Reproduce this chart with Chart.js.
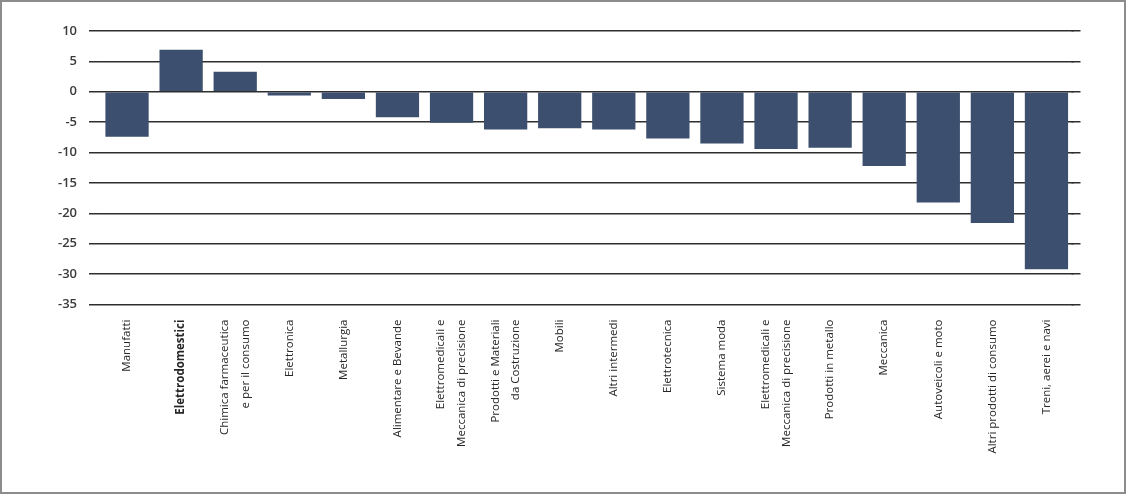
<!DOCTYPE html>
<html>
<head>
<meta charset="utf-8">
<script src="https://cdn.jsdelivr.net/npm/chart.js@4.4.1/dist/chart.umd.min.js"></script>
<style>
  html, body { margin: 0; padding: 0; background: #ffffff; }
  #wrap { position: relative; width: 1127px; height: 494px; overflow: hidden; }
  #frame { position: absolute; left: 0; top: 0; width: 1126px; height: 494px; box-sizing: border-box; border: 2px solid #8c8c8c; pointer-events: none; }
  canvas { position: absolute; left: 0; top: 0; }
</style>
</head>
<body>
<div id="wrap">
  <canvas id="c" width="1127" height="494"></canvas>
  <div id="frame"></div>
</div>
<script>
const categories = [
  "Manufatti",
  "Elettrodomestici",
  ["Chimica farmaceutica", "e per il consumo"],
  "Elettronica",
  "Metallurgia",
  "Alimentare e Bevande",
  ["Elettromedicali e", "Meccanica di precisione"],
  ["Prodotti e Materiali", "da Costruzione"],
  "Mobili",
  "Altri intermedi",
  "Elettrotecnica",
  "Sistema moda",
  ["Elettromedicali e", "Meccanica di precisione"],
  "Prodotti in metallo",
  "Meccanica",
  "Autoveicoli e moto",
  "Altri prodotti di consumo",
  "Treni, aerei e navi"
];
const values = [-7.4, 6.9, 3.3, -0.6, -1.2, -4.2, -5.1, -6.2, -6.0, -6.2, -7.7, -8.5, -9.4, -9.2, -12.2, -18.2, -21.6, -29.2];
const boldCategoryIndex = 1;
const yMin = -35, yMax = 10, yStep = 5;

const gridColor = '#2e2e2e';
const gridWidth = 1.5;

const labelCenterPlugin = {
  id: 'labelCenter',
  beforeDraw(chart) {
    const xs = chart.scales.x;
    const items = xs.getLabelItems();
    if (xs._centered === items) return;
    items.forEach(it => {
      if (Array.isArray(it.label) && it.label.length > 1) {
        it.options.translation[0] -= (it.label.length - 1) * it.font.lineHeight / 2;
      }
    });
    xs._centered = items;
  }
};

const gridExtendPlugin = {
  id: 'gridExtend',
  beforeDatasetsDraw(chart) {
    const ys = chart.scales.y;
    const ctx = chart.ctx;
    const right = chart.chartArea.right;
    const hw = gridWidth / 2;
    ctx.save();
    ctx.strokeStyle = gridColor;
    ctx.lineWidth = gridWidth;
    ys.ticks.forEach(t => {
      const p = ys.getPixelForValue(t.value);
      const py = Math.round(p - hw) + hw;
      ctx.beginPath();
      ctx.moveTo(right - 2, py);
      ctx.lineTo(right + 7, py);
      ctx.stroke();
    });
    ctx.restore();
  }
};

new Chart(document.getElementById('c'), {
  type: 'bar',
  data: {
    labels: categories,
    datasets: [{
      data: values,
      backgroundColor: '#3c4f6e',
      borderWidth: 0,
      barPercentage: 0.8,
      categoryPercentage: 1.0
    }]
  },
  options: {
    responsive: false,
    animation: false,
    layout: { padding: { left: 0, right: 53.5, top: 31, bottom: 0 } },
    plugins: { legend: { display: false }, tooltip: { enabled: false } },
    scales: {
      x: {
        grid: { display: false, drawTicks: false },
        border: { display: false },
        ticks: {
          autoSkip: false,
          maxRotation: 90,
          minRotation: 90,
          padding: 15,
          color: '#262626',
          font: (ctx) => ({
            family: "'Open Sans', sans-serif",
            size: 11.5,
            weight: ctx.index === boldCategoryIndex ? 'bold' : 'normal',
            lineHeight: 1.8
          })
        },
        afterFit(scale) { scale.height = 189.5; }
      },
      y: {
        min: yMin,
        max: yMax,
        border: { display: false },
        grid: { color: gridColor, lineWidth: gridWidth, tickLength: 11, drawTicks: true },
        ticks: {
          stepSize: yStep,
          padding: 12,
          color: '#3a3a3a',
          font: { family: "'Open Sans', sans-serif", size: 13, weight: '600' }
        },
        afterFit(scale) { scale.width = 100; }
      }
    }
  },
  plugins: [labelCenterPlugin, gridExtendPlugin]
});
</script>
</body>
</html>
